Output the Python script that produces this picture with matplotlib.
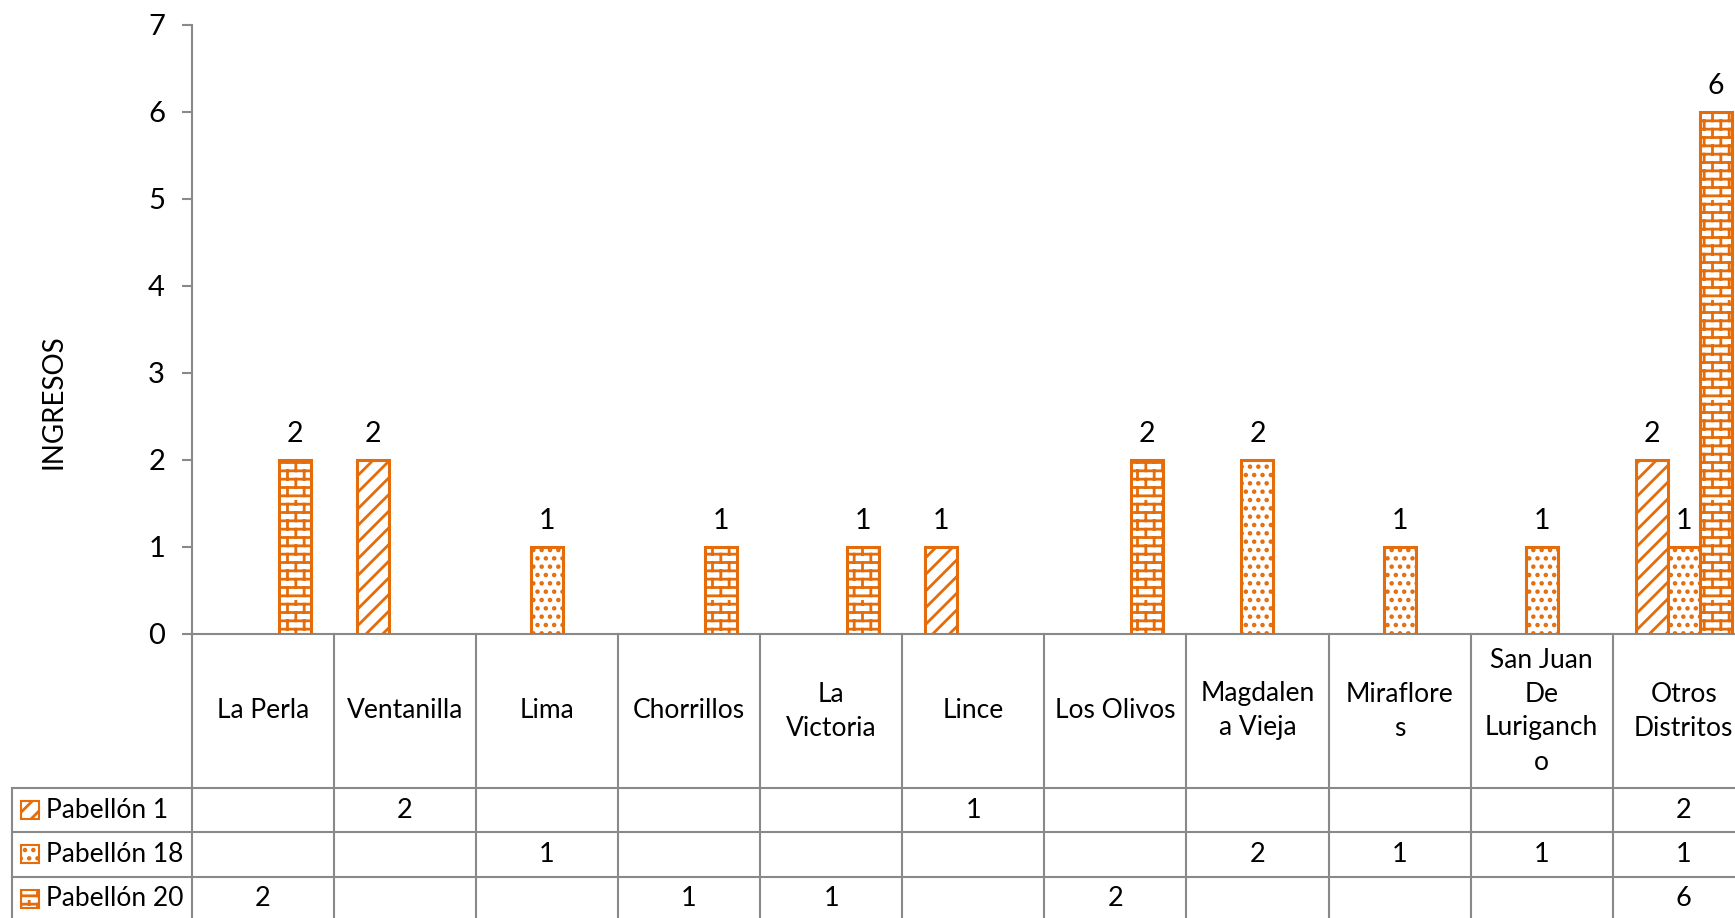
import warnings
import numpy as np
import matplotlib
matplotlib.use('Agg')
import matplotlib.pyplot as plt
import matplotlib.hatch as mhatch
from matplotlib.lines import Line2D
from matplotlib.patches import Rectangle
from matplotlib.path import Path
from matplotlib.transforms import blended_transform_factory

warnings.filterwarnings('ignore')

# datos
distritos = ['La Perla', 'Ventanilla', 'Lima', 'Chorrillos', 'La\nVictoria', 'Lince',
             'Los Olivos', 'Magdalen\na Vieja', 'Miraflore\ns', 'San Juan\nDe\nLuriganch\no',
             'Otros\nDistritos']
series = ['Pabellón 1', 'Pabellón 18', 'Pabellón 20']
pab1 = [0, 2, 0, 0, 0, 1, 0, 0, 0, 0, 2]
pab18 = [0, 0, 1, 0, 0, 0, 0, 2, 1, 1, 1]
pab20 = [2, 0, 0, 1, 1, 0, 2, 0, 0, 0, 6]
y_ticks = [0, 1, 2, 3, 4, 5, 6, 7]
y_label = 'INGRESOS'


# trama tipo ladrillo (como la de Excel)
class BrickHatch(mhatch.HatchPatternBase):
    def __init__(self, hatch, density):
        self.num_rows = hatch.count('b') * 2 * density
        self.num_cols = density
        self.num_vertices = self.num_rows * (2 + 2 * self.num_cols)

    def set_vertices_and_codes(self, vertices, codes):
        k = 0
        for i in range(self.num_rows):
            y0 = (i + 0.5) / self.num_rows
            vertices[k] = (0.0, y0)
            vertices[k + 1] = (1.0, y0)
            codes[k] = Path.MOVETO
            codes[k + 1] = Path.LINETO
            k += 2
            for j in range(self.num_cols):
                x = (j + 0.25 + 0.5 * (i % 2)) / self.num_cols
                vertices[k] = (x, y0)
                vertices[k + 1] = (x, y0 + 1.0 / self.num_rows)
                codes[k] = Path.MOVETO
                codes[k + 1] = Path.LINETO
                k += 2


mhatch._hatch_types.append(BrickHatch)

W, H = 1735, 918
naranja = '#E46C0A'
gris = '#898989'
fuente = 'Lato'
fs = 19

plt.rcParams['font.family'] = [fuente, 'DejaVu Sans']
plt.rcParams['hatch.linewidth'] = 2.0

fig = plt.figure(figsize=(W / 100, H / 100), dpi=100)

# posiciones en pixeles
x_eje = 191.7
ancho_cat = 142.1
y_cero = 634
y_top = 24.5
ax = fig.add_axes([x_eje / W, 1 - y_cero / H, len(distritos) * ancho_cat / W, (y_cero - y_top) / H])

hatches = ['//', '..', 'b']
valores = [pab1, pab18, pab20]
w = 0.225
x = np.arange(len(distritos))
for s, (vals, hatch) in enumerate(zip(valores, hatches)):
    vals = np.array(vals)
    idx = np.nonzero(vals)[0]
    bars = ax.bar(x[idx] + (s - 1) * w, vals[idx], width=w, facecolor='white',
                  edgecolor=naranja, linewidth=2.2, hatch=hatch, zorder=3)
    ax.bar_label(bars, padding=9, fontsize=20.5, color='black')

ax.set_xlim(-0.5, len(distritos) - 0.5)
ax.set_ylim(0, 7)
ax.set_yticks(y_ticks)
ax.set_xticks([])
for sp in ['top', 'right']:
    ax.spines[sp].set_visible(False)
for sp in ['left', 'bottom']:
    ax.spines[sp].set_color(gris)
    ax.spines[sp].set_linewidth(1.5)
ax.tick_params(axis='y', direction='out', length=7.2, width=1.5, color=gris,
               pad=12, labelsize=21, labelcolor='black')

fig.text(53 / W, 1 - 402 / H, y_label, rotation=90, ha='center', va='center',
         fontsize=20, color='black')


# tabla de datos
def fy(px):
    return 1 - px / H


filas = [788, 832, 876.5, 921]
trans = blended_transform_factory(ax.transData, fig.transFigure)
lw = 1.5
# separadores verticales de categorias
for k in range(len(distritos)):
    fig.add_artist(Line2D([k - 0.5, k - 0.5], [fy(y_cero), 0], transform=trans,
                          color=gris, linewidth=lw, clip_on=False))
fig.add_artist(Line2D([12 / W, 12 / W], [fy(filas[0]), 0], color=gris, linewidth=lw))
for yr in filas[:-1]:
    fig.add_artist(Line2D([12 / W, 1], [fy(yr), fy(yr)], color=gris, linewidth=lw))

# etiquetas de categorias
for k, nombre in enumerate(distritos):
    fig.text(k, fy((y_cero + filas[0]) / 2), nombre, transform=trans, ha='center',
             va='center', multialignment='center', fontsize=fs, linespacing=1.45,
             color='black')

for s, (nombre, vals, hatch) in enumerate(zip(series, valores, hatches)):
    yc = (filas[s] + filas[s + 1]) / 2
    fig.add_artist(Rectangle((21 / W, fy(yc + 9)), 18 / W, 18 / H, facecolor='white',
                             edgecolor=naranja, linewidth=1.5, hatch=hatch))
    fig.text(46 / W, fy(yc), nombre, ha='left', va='center', fontsize=fs, color='black')
    for k, v in enumerate(vals):
        if v:
            fig.text(k, fy(yc), str(v), transform=trans, ha='center', va='center',
                     fontsize=fs + 0.5, color='black')

fig.savefig('out.png', dpi=100)
